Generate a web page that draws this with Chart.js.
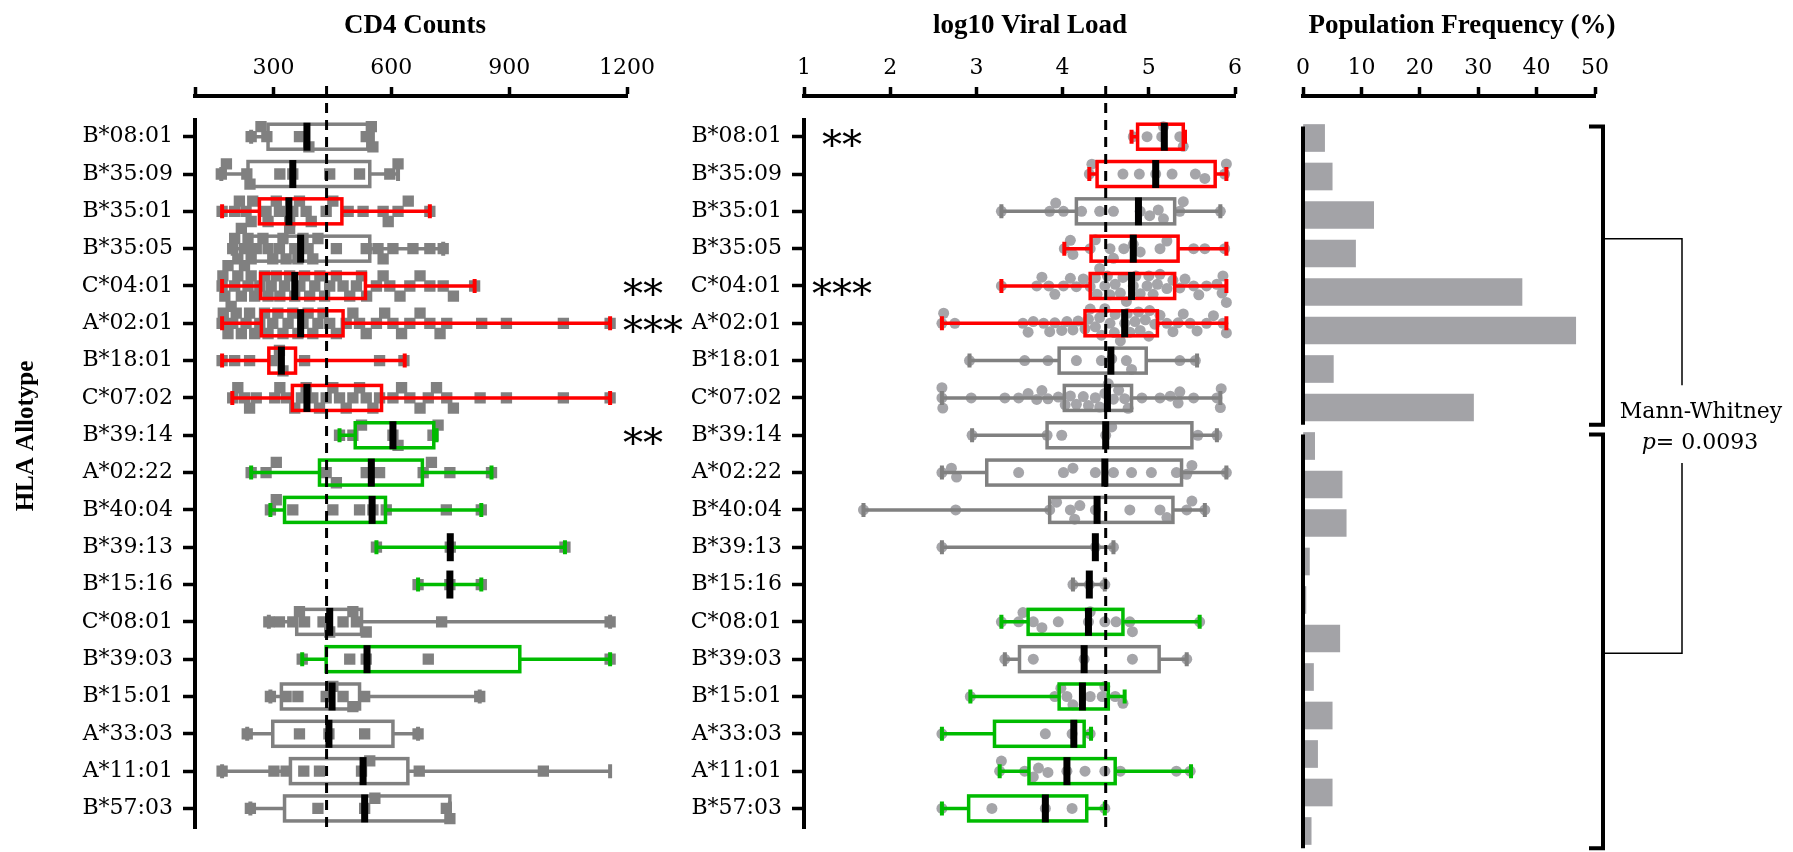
<!DOCTYPE html>
<html>
<head>
<meta charset="utf-8">
<script src="https://cdn.jsdelivr.net/npm/chart.js@4.4.1/dist/chart.umd.min.js"></script>
<style>
  html, body { margin: 0; padding: 0; background: #fff; }
  #wrap { position: relative; width: 1793px; height: 852px; overflow: hidden; }
  canvas { position: absolute; left: 0; top: 0; }
</style>
</head>
<body>
<div id="wrap">
  <canvas id="cd4" width="1793" height="852"></canvas>
  <canvas id="vl" width="1793" height="852"></canvas>
  <canvas id="freq" width="1793" height="852"></canvas>
</div>
<script>
'use strict';
/* HLA allotype panels: CD4 counts, viral load, population frequency. */

const ALLELES = ['B*08:01', 'B*35:09', 'B*35:01', 'B*35:05', 'C*04:01', 'A*02:01', 'B*18:01', 'C*07:02',
  'B*39:14', 'A*02:22', 'B*40:04', 'B*39:13', 'B*15:16', 'C*08:01', 'B*39:03', 'B*15:01', 'A*33:03',
  'A*11:01', 'B*57:03'];

// CD4 counts: whiskers, quartiles, median per allotype
const CD4_LOW = [243, 167, 169, 196, 169, 169, 169, 195, 468, 243, 292, 562, 668, 288, 373, 292, 233, 169, 241];
const CD4_Q1 = [286, 235, 264, 243, 267, 269, 288, 348, 508, 417, 328, 750, 749, 359, 434, 320, 298, 343, 328];
const CD4_MED = [385, 349, 339, 369, 354, 369, 320, 385, 604, 549, 551, 750, 749, 443, 538, 449, 441, 528, 532];
const CD4_Q3 = [540, 545, 474, 545, 534, 477, 356, 575, 708, 679, 585, 750, 749, 524, 927, 519, 604, 642, 749];
const CD4_HIGH = [553, 617, 698, 732, 812, 1157, 634, 1157, 715, 855, 829, 1042, 829, 1157, 1157, 825, 668, 1157, 749];
const CD4_COLOR = ['gray', 'gray', 'red', 'gray', 'red', 'red', 'red', 'red', 'green', 'green', 'green', 'green',
  'green', 'gray', 'green', 'gray', 'gray', 'gray', 'gray'];
const CD4_MARKS = ['', '', '', '', '**', '***', '', '', '**', '', '', '', '', '', '', '', '', '', ''];
const CD4_REF = 435;
const CD4_TICKS = [100, 300, 600, 900, 1200];
const CD4_POINTS = [
  [243, 268, 283, 366, 390, 536, 549, 553],
  [167, 180, 232, 240, 316, 349, 443, 519, 596, 617],
  [169, 201, 213, 230, 243, 247, 281, 286, 307, 315, 341, 349, 366, 383, 396, 434, 451, 490, 528, 579, 592, 617, 643, 698],
  [196, 201, 209, 218, 226, 235, 243, 256, 273, 286, 298, 315, 324, 332, 341, 354, 362, 375, 388, 400, 413, 460, 536, 566,
    579, 604, 655, 698, 732],
  [169, 171, 176, 184, 192, 201, 209, 218, 226, 235, 243, 252, 265, 277, 286, 294, 307, 316, 328, 341, 354, 367, 379, 392,
    405, 418, 430, 443, 460, 477, 494, 511, 524, 537, 562, 579, 596, 622, 647, 673, 698, 732, 758, 812],
  [169, 172, 184, 196, 205, 218, 230, 239, 252, 265, 277, 286, 298, 311, 324, 337, 349, 362, 375, 388, 400, 413, 426, 443,
    460, 485, 502, 519, 536, 562, 583, 604, 626, 647, 673, 698, 724, 741, 830, 893, 1038, 1157],
  [169, 201, 239, 303, 315, 324, 379, 570, 632],
  [196, 209, 226, 239, 256, 303, 316, 333, 354, 371, 383, 400, 417, 434, 451, 468, 485, 502, 519, 536, 553, 570, 604, 626,
    647, 673, 694, 715, 741, 758, 826, 893, 1038, 1157],
  [468, 502, 524, 604, 617, 706, 719],
  [243, 281, 307, 434, 460, 536, 570, 681, 702, 749, 855],
  [292, 307, 349, 451, 519, 553, 587, 740, 829],
  [562, 750, 1042],
  [668, 749, 829],
  [288, 315, 349, 366, 379, 426, 443, 477, 502, 511, 536, 728, 1157],
  [373, 494, 536, 694, 1157],
  [292, 332, 362, 434, 451, 477, 502, 532, 825],
  [233, 366, 441, 532, 668],
  [169, 301, 332, 377, 417, 524, 545, 671, 987],
  [241, 413, 532, 558, 740, 749],
];

// log10 viral load
const VL_LOW = [4.80, 4.31, 3.29, 4.02, 3.29, 2.60, 2.92, 2.60, 2.95, 2.60, 1.69, 2.60, 4.12, 3.29, 3.33, 2.93, 2.60, 3.27, 2.60];
const VL_Q1 = [4.87, 4.40, 4.16, 4.33, 4.32, 4.26, 3.96, 4.02, 3.82, 3.12, 3.85, 4.38, 4.31, 3.60, 3.50, 3.96, 3.21, 3.61, 2.91];
const VL_MED = [5.18, 5.08, 4.88, 4.82, 4.80, 4.72, 4.56, 4.52, 4.50, 4.49, 4.40, 4.38, 4.31, 4.30, 4.25, 4.23, 4.13, 4.05, 3.80];
const VL_Q3 = [5.40, 5.77, 5.30, 5.34, 5.30, 5.10, 4.97, 4.80, 5.50, 5.38, 5.28, 4.38, 4.31, 4.70, 5.12, 4.53, 4.25, 4.61, 4.28];
const VL_HIGH = [5.42, 5.90, 5.83, 5.90, 5.90, 5.90, 5.56, 5.83, 5.79, 5.90, 5.65, 4.59, 4.49, 5.59, 5.44, 4.72, 4.33, 5.49, 4.49];
const VL_COLOR = ['red', 'red', 'gray', 'red', 'red', 'red', 'gray', 'gray', 'gray', 'gray', 'gray', 'gray', 'gray',
  'green', 'gray', 'green', 'green', 'green', 'green'];
const VL_MARKS = ['**', '', '', '', '***', '', '', '', '', '', '', '', '', '', '', '', '', '', ''];
const VL_REF = 4.5;
const VL_TICKS = [1, 2, 3, 4, 5, 6];
const VL_POINTS = [
  [4.82, 4.98, 5.15, 5.17, 5.36, 5.40],
  [4.31, 4.34, 4.70, 4.89, 5.08, 5.27, 5.54, 5.65, 5.88, 5.90],
  [3.29, 3.85, 3.92, 4.01, 4.22, 4.43, 4.59, 4.90, 5.01, 5.11, 5.17, 5.36, 5.40, 5.83],
  [4.02, 4.09, 4.12, 4.32, 4.38, 4.55, 4.59, 4.71, 4.82, 4.90, 5.13, 5.21, 5.52, 5.65, 5.88],
  [3.29, 3.70, 3.76, 3.84, 3.91, 4.01, 4.09, 4.16, 4.24, 4.32, 4.38, 4.40, 4.43, 4.49, 4.52, 4.55, 4.61, 4.67, 4.70,
    4.74, 4.82, 4.85, 4.90, 4.98, 5.00, 5.05, 5.10, 5.13, 5.21, 5.28, 5.36, 5.42, 5.52, 5.58, 5.67, 5.79, 5.85, 5.86, 5.90],
  [2.60, 2.62, 2.75, 3.54, 3.60, 3.66, 3.78, 3.85, 3.91, 3.99, 4.05, 4.12, 4.18, 4.26, 4.30, 4.32, 4.38, 4.43, 4.45,
    4.49, 4.55, 4.60, 4.61, 4.67, 4.72, 4.75, 4.78, 4.84, 4.88, 4.90, 4.96, 5.00, 5.01, 5.07, 5.13, 5.21, 5.28, 5.34,
    5.40, 5.48, 5.56, 5.67, 5.75, 5.86, 5.90],
  [2.92, 3.56, 3.83, 4.16, 4.45, 4.57, 4.74, 4.80, 5.36, 5.54],
  [2.60, 2.60, 2.61, 2.94, 3.33, 3.49, 3.60, 3.70, 3.76, 3.83, 3.95, 4.03, 4.09, 4.16, 4.24, 4.30, 4.38, 4.43, 4.49,
    4.53, 4.59, 4.65, 4.72, 4.76, 4.92, 5.13, 5.25, 5.34, 5.36, 5.52, 5.79, 5.83, 5.84],
  [2.95, 3.82, 3.99, 4.50, 4.57, 5.57, 5.79],
  [2.60, 2.71, 2.77, 3.49, 4.01, 4.12, 4.38, 4.59, 4.80, 5.03, 5.32, 5.44, 5.50, 5.90],
  [1.69, 2.76, 3.85, 3.93, 4.09, 4.14, 4.20, 4.38, 4.78, 5.13, 5.21, 5.44, 5.50, 5.65],
  [2.60, 4.38, 4.59],
  [4.12, 4.31, 4.49],
  [3.29, 3.49, 3.54, 3.66, 3.76, 3.95, 4.30, 4.32, 4.49, 4.62, 4.78, 4.81, 5.59],
  [3.33, 3.66, 4.25, 4.81, 5.44],
  [2.93, 3.91, 3.98, 4.05, 4.12, 4.32, 4.46, 4.49, 4.61, 4.70],
  [2.60, 3.80, 4.11, 4.32],
  [3.27, 3.29, 3.56, 3.66, 3.72, 3.83, 4.05, 4.26, 4.49, 4.67, 5.32, 5.48],
  [2.60, 3.18, 3.80, 4.11, 4.49],
];

// population frequency (%)
const FREQ = [3.7, 5.0, 12.1, 9.0, 37.5, 46.7, 5.2, 29.2, 2.0, 6.7, 7.4, 1.1, 0.5, 6.3, 1.8, 5.0, 2.5, 5.0, 1.4];
const FREQ_TICKS = [0, 10, 20, 30, 40, 50];
const GROUPS = [[0, 7], [8, 18]];

// ---- layout ----
const W = 1793, H = 852, TOP = 96, ROW_PX = 38.5, FIRST_ROW = 138;
const Y_MIN = -(FIRST_ROW - TOP) / ROW_PX;
const Y_MAX = Y_MIN + (H - TOP) / ROW_PX;
const FRAME = { cd4: [195, 627], vl: [804, 1235], freq: [1303, 1595] };
const COLORS = { gray: '#808080', red: '#ff0000', green: '#00bb00' };
const TITLE_FONT = 'bold 27px "Liberation Serif"';

Chart.defaults.font.family = '"DejaVu Serif"';
Chart.defaults.font.size = 22;
Chart.defaults.color = '#000';

// deterministic beeswarm: offsets points inside a row so they do not overlap
function swarm(rows, unitPx, size, round) {
  const out = [];
  rows.forEach((vals, r) => {
    const placed = [];
    let flip = 1;
    [...vals].sort((a, b) => a - b).forEach(v => {
      const px = v * unitPx;
      const near = placed.filter(p => Math.abs(p.px - px) < size);
      const cands = [0];
      near.forEach(p => {
        const dx = p.px - px;
        const h = round ? Math.sqrt(size * size - dx * dx) : size;
        cands.push(p.dy + h, p.dy - h);
      });
      const ok = cands.filter(c => near.every(p => {
        const dx = p.px - px, dy = p.dy - c;
        return round ? dx * dx + dy * dy >= size * size - 0.01 : Math.abs(dy) >= size - 0.01;
      }));
      ok.sort((a, b) => (Math.abs(a) - Math.abs(b)) || (a - b) * flip);
      const dy = ok[0];
      if (dy !== 0) flip = dy < 0 ? -1 : 1;
      placed.push({ px, dy });
      out.push({ x: v, y: r + dy / ROW_PX });
    });
  });
  return out;
}

function axisX(min, max, ticks, label) {
  return {
    type: 'linear', position: 'top', min, max, offset: false,
    afterBuildTicks: s => { s.ticks = ticks.map(value => ({ value })); },
    afterFit: s => { s.height = TOP; },
    ticks: { callback: label, padding: 6, maxRotation: 0, autoSkip: false },
    grid: { drawOnChartArea: false, tickLength: 9, tickWidth: 3.5, tickColor: '#000', offset: false },
    border: { color: '#000', width: 4 },
  };
}

function axisY(width) {
  return {
    type: 'linear', reverse: true, min: Y_MIN, max: Y_MAX, offset: false,
    afterBuildTicks: s => { s.ticks = ALLELES.map((_, i) => ({ value: i })); },
    afterFit: s => { s.width = width; },
    ticks: { callback: v => ALLELES[v], padding: 10, autoSkip: false },
    grid: { drawOnChartArea: false, tickLength: 12, tickWidth: 3.5, tickColor: '#000', offset: false },
    border: { display: false },
  };
}

function boxPlot(s) {
  return {
    id: 'boxplot',
    afterDatasetsDraw(chart) {
      const { ctx, chartArea: a, scales: { x, y } } = chart;
      ctx.save();
      s.low.forEach((lo, i) => {
        const cy = y.getPixelForValue(i);
        const pl = x.getPixelForValue(lo), p1 = x.getPixelForValue(s.q1[i]);
        const p3 = x.getPixelForValue(s.q3[i]), ph = x.getPixelForValue(s.high[i]);
        ctx.strokeStyle = COLORS[s.color[i]];
        ctx.lineWidth = 3.5;
        ctx.beginPath();
        ctx.moveTo(pl, cy); ctx.lineTo(p1, cy);
        ctx.moveTo(p3, cy); ctx.lineTo(ph, cy);
        ctx.stroke();
        ctx.lineWidth = 4;
        ctx.beginPath();
        ctx.moveTo(pl, cy - 7); ctx.lineTo(pl, cy + 7);
        ctx.moveTo(ph, cy - 7); ctx.lineTo(ph, cy + 7);
        ctx.stroke();
        if (p3 - p1 > 1) {
          ctx.lineWidth = 3.5;
          ctx.strokeRect(p1, cy - 12.5, p3 - p1, 25);
        }
      });
      // reference line
      const rx = x.getPixelForValue(s.ref);
      ctx.strokeStyle = '#000';
      ctx.lineWidth = 3;
      ctx.setLineDash([10, 7]);
      ctx.beginPath(); ctx.moveTo(rx, a.top - 10); ctx.lineTo(rx, a.bottom); ctx.stroke();
      ctx.setLineDash([]);
      // medians
      ctx.fillStyle = '#000';
      s.med.forEach((m, i) => {
        ctx.fillRect(x.getPixelForValue(m) - 3.5, y.getPixelForValue(i) - 14, 7, 28);
      });
      // y axis line
      ctx.lineWidth = 4;
      ctx.beginPath();
      ctx.moveTo(a.left, y.getPixelForValue(-0.5));
      ctx.lineTo(a.left, y.getPixelForValue(18.55));
      ctx.stroke();
      // significance marks
      ctx.font = '40px "DejaVu Serif"';
      ctx.textAlign = s.markAlign;
      ctx.textBaseline = 'alphabetic';
      s.marks.forEach((t, i) => { if (t) ctx.fillText(t, s.markX(a), y.getPixelForValue(i) + 21); });
      // panel title
      ctx.font = TITLE_FONT;
      ctx.textAlign = 'center';
      ctx.textBaseline = 'middle';
      ctx.fillText(s.title, s.titleX, 26);
      if (s.yTitle) {
        ctx.translate(27, 436);
        ctx.rotate(-Math.PI / 2);
        ctx.font = 'bold 25px "Liberation Serif"';
        ctx.fillText(s.yTitle, 0, 0);
      }
      ctx.restore();
    },
  };
}

const groupPlugin = {
  id: 'groups',
  afterDatasetsDraw(chart) {
    const { ctx, chartArea: a, scales: { y } } = chart;
    const bx = a.right + 8, lx = 1682;
    ctx.save();
    ctx.strokeStyle = '#000';
    ctx.fillStyle = '#000';
    GROUPS.forEach(([first, last]) => {
      const t = y.getPixelForValue(first - 0.3), b = y.getPixelForValue(last + 0.45);
      ctx.lineWidth = 4;
      ctx.beginPath(); ctx.moveTo(a.left, t); ctx.lineTo(a.left, b); ctx.stroke();
      ctx.beginPath();
      ctx.moveTo(bx - 14, t); ctx.lineTo(bx, t); ctx.lineTo(bx, b); ctx.lineTo(bx - 14, b);
      ctx.stroke();
    });
    // connector to the test label
    ctx.lineWidth = 1.5;
    ctx.beginPath();
    ctx.moveTo(bx + 2, y.getPixelForValue(2.62)); ctx.lineTo(lx, y.getPixelForValue(2.62));
    ctx.lineTo(lx, y.getPixelForValue(6.42));
    ctx.moveTo(lx, y.getPixelForValue(8.44)); ctx.lineTo(lx, y.getPixelForValue(13.38));
    ctx.lineTo(bx + 2, y.getPixelForValue(13.38));
    ctx.stroke();
    ctx.textBaseline = 'middle';
    ctx.textAlign = 'center';
    ctx.font = '22px "DejaVu Serif"';
    ctx.fillText('Mann-Whitney', 1701, y.getPixelForValue(7.12));
    const py = y.getPixelForValue(7.92);
    ctx.font = 'italic 22px "DejaVu Serif"';
    const wp = ctx.measureText('p').width;
    ctx.font = '22px "DejaVu Serif"';
    const wr = ctx.measureText('= 0.0093').width;
    const x0 = 1700 - (wp + wr) / 2;
    ctx.textAlign = 'left';
    ctx.font = 'italic 22px "DejaVu Serif"';
    ctx.fillText('p', x0, py);
    ctx.font = '22px "DejaVu Serif"';
    ctx.fillText('= 0.0093', x0 + wp, py);
    ctx.font = TITLE_FONT;
    ctx.textAlign = 'center';
    ctx.fillText('Population Frequency (%)', 1462, 26);
    ctx.restore();
  },
};

const common = {
  responsive: false, animation: false, events: [],
  plugins: { legend: { display: false }, tooltip: { enabled: false } },
};

new Chart(document.getElementById('cd4'), {
  type: 'scatter',
  data: {
    datasets: [{
      data: swarm(CD4_POINTS, (FRAME.cd4[1] - FRAME.cd4[0]) / 1100, 10.5, false),
      pointStyle: 'rect', pointRadius: 8, backgroundColor: '#808080', borderWidth: 0,
    }],
  },
  options: {
    ...common,
    layout: { padding: { left: 0, right: W - FRAME.cd4[1], top: 0, bottom: 0 } },
    scales: { x: axisX(100, 1200, CD4_TICKS, v => (v === 100 ? '' : v)), y: axisY(FRAME.cd4[0]) },
  },
  plugins: [boxPlot({
    low: CD4_LOW, q1: CD4_Q1, med: CD4_MED, q3: CD4_Q3, high: CD4_HIGH, color: CD4_COLOR,
    ref: CD4_REF, marks: CD4_MARKS, markAlign: 'left', markX: a => a.right - 4,
    title: 'CD4 Counts', titleX: 415, yTitle: 'HLA Allotype',
  })],
});

new Chart(document.getElementById('vl'), {
  type: 'scatter',
  data: {
    datasets: [{
      data: swarm(VL_POINTS, (FRAME.vl[1] - FRAME.vl[0]) / 5, 10.5, true),
      pointStyle: 'circle', pointRadius: 5.5, backgroundColor: '#a5a5a9', borderWidth: 0,
    }],
  },
  options: {
    ...common,
    layout: { padding: { left: 640, right: W - FRAME.vl[1], top: 0, bottom: 0 } },
    scales: { x: axisX(1, 6, VL_TICKS, v => v), y: axisY(FRAME.vl[0] - 640) },
  },
  plugins: [boxPlot({
    low: VL_LOW, q1: VL_Q1, med: VL_MED, q3: VL_Q3, high: VL_HIGH, color: VL_COLOR,
    ref: VL_REF, marks: VL_MARKS, markAlign: 'center', markX: a => a.left + 38,
    title: 'log10 Viral Load', titleX: 1030,
  })],
});

new Chart(document.getElementById('freq'), {
  type: 'bar',
  data: {
    datasets: [{
      data: FREQ.map((v, i) => ({ x: v, y: i })),
      backgroundColor: '#a3a3a7', barThickness: 27,
    }],
  },
  options: {
    ...common,
    indexAxis: 'y',
    layout: { padding: { left: FRAME.freq[0], right: W - FRAME.freq[1], top: 0, bottom: 0 } },
    scales: {
      x: axisX(0, 50, FREQ_TICKS, v => v),
      y: { type: 'linear', reverse: true, min: Y_MIN, max: Y_MAX, display: false, offset: false,
        grid: { offset: false } },
    },
  },
  plugins: [groupPlugin],
});
</script>
</body>
</html>
